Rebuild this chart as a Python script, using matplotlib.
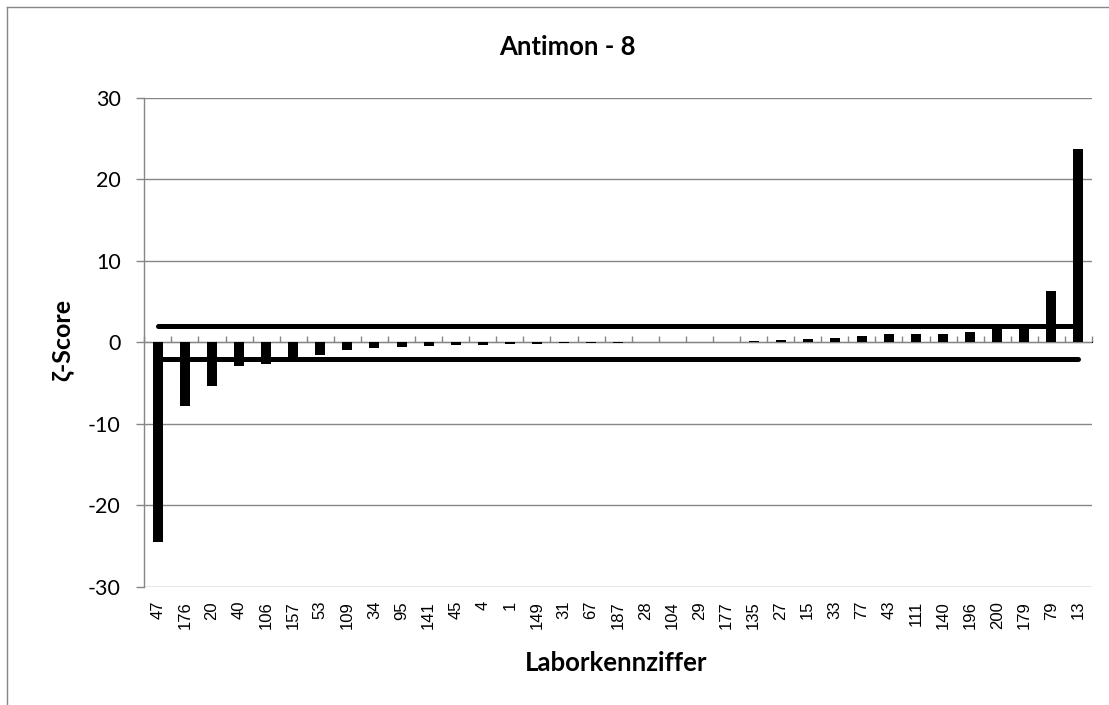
import matplotlib
matplotlib.use("Agg")
import matplotlib.pyplot as plt
import numpy as np
from matplotlib.lines import Line2D

labs = ["47", "176", "20", "40", "106", "157", "53", "109", "34", "95", "141", "45", "4", "1",
        "149", "31", "67", "187", "28", "104", "29", "177", "135", "27", "15", "33", "77", "43",
        "111", "140", "196", "200", "179", "79", "13"]
zscores = [-24.5, -7.8, -5.3, -2.95, -2.7, -2.45, -1.5, -0.95, -0.75, -0.55, -0.42, -0.35, -0.3,
           -0.25, -0.18, -0.12, -0.05, -0.03, -0.01, 0.01, 0.03, 0.08, 0.2, 0.33, 0.37, 0.54,
           0.82, 1.03, 1.03, 1.03, 1.31, 2.1, 2.05, 6.24, 23.75]
upper_limit = [2.0] * len(labs)
lower_limit = [-2.0] * len(labs)

GRAY = "#868686"
main_font = ["Lato", "DejaVu Sans"]

fig = plt.figure(figsize=(11.09, 7.05), dpi=100)
ax = fig.add_axes([144.3 / 1109, 1 - 587 / 705, (1092 - 144.3) / 1109, (587 - 97.7) / 705])

x = np.arange(len(labs))
ax.bar(x, zscores, width=0.37, color="black", zorder=3)
ax.plot(x, upper_limit, color="black", lw=3.6, solid_capstyle="round", zorder=4)
ax.plot(x, lower_limit, color="black", lw=3.6, solid_capstyle="round", zorder=4)

ax.set_xlim(-0.5, len(labs) - 0.5)
ax.set_ylim(-30, 30)
ax.set_yticks([-30, -20, -10, 0, 10, 20, 30])
ax.set_yticklabels(["-30", "-20", "-10", "0", "10", "20", "30"], fontfamily=main_font, fontsize=15.5)
ax.grid(axis="y", color=GRAY, lw=1.0, zorder=0)
ax.set_axisbelow(True)

for s in ["top", "right", "bottom"]:
    ax.spines[s].set_visible(False)
ax.spines["left"].set_color(GRAY)
ax.spines["left"].set_linewidth(1.0)
ax.tick_params(axis="y", direction="out", length=6, width=1.0, color=GRAY, pad=11)

ax.set_xticks(x)
ax.set_xticklabels(labs, rotation=90, fontfamily=["Liberation Sans"], fontsize=12,
                   va="top", ha="center")
ax.tick_params(axis="x", length=0, pad=10)

sec = ax.secondary_xaxis(0.5)
sec.set_xticks(np.arange(len(labs) + 1) - 0.5)
sec.set_xticklabels([""] * (len(labs) + 1))
sec.spines["bottom"].set_color(GRAY)
sec.spines["bottom"].set_linewidth(1.0)
sec.tick_params(axis="x", direction="out", length=4.5, width=1.0, color=GRAY)

fig.text(567 / 1109, 1 - 47 / 705, "Antimon - 8", ha="center", va="center",
         fontfamily=main_font, fontsize=18.5, fontweight="bold")
fig.text(616 / 1109, 1 - 663 / 705, "Laborkennziffer", ha="center", va="center",
         fontfamily=main_font, fontsize=18.5, fontweight="bold")
fig.text(62 / 1109, 1 - 340 / 705, "ζ-Score", ha="center", va="center", rotation=90,
         fontfamily=main_font, fontsize=18, fontweight="bold")

fig.add_artist(Line2D([7 / 1109, 7 / 1109], [0, 1 - 7 / 705], transform=fig.transFigure,
                      color=GRAY, lw=1.0))
fig.add_artist(Line2D([7 / 1109, 1], [1 - 7 / 705, 1 - 7 / 705], transform=fig.transFigure,
                      color=GRAY, lw=1.0))

fig.savefig("out.png", dpi=100, facecolor="white")
